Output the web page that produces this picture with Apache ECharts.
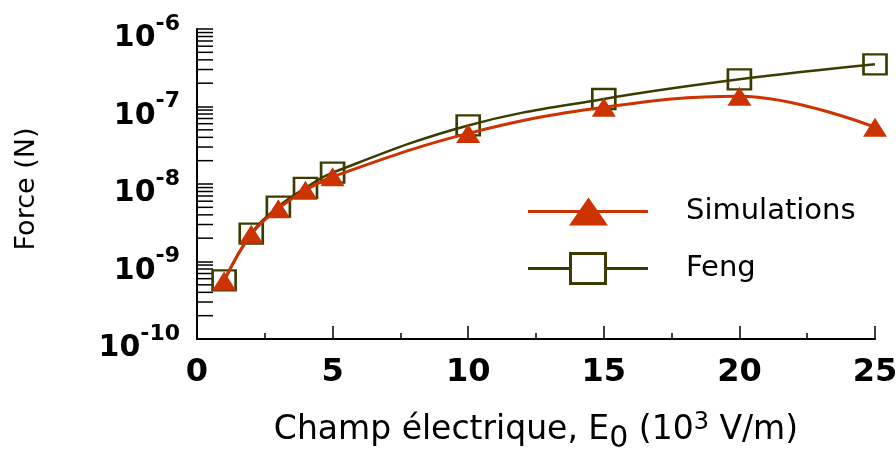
<!DOCTYPE html>
<html>
<head>
<meta charset="utf-8">
<script src="https://cdn.jsdelivr.net/npm/echarts@6/dist/echarts.min.js"></script>
<style>
html,body{margin:0;padding:0;background:#fff;}
#chart{width:896px;height:450px;}
</style>
</head>
<body>
<div id="chart"></div>
<script>
// ---- data ----
const fieldE0 = [1, 2, 3, 4, 5, 10, 15, 20, 25];
const simulations = [5.6e-10, 2.24e-9, 4.8e-9, 8.3e-9, 1.24e-8, 4.5e-8, 9.8e-8, 1.36e-7, 5.4e-8];
const feng = [5.7e-10, 2.29e-9, 5.1e-9, 8.9e-9, 1.4e-8, 5.7e-8, 1.25e-7, 2.24e-7, 3.5e-7];
const xTicks = [0, 5, 10, 15, 20, 25];
const yDecades = [-10, -9, -8, -7, -6];
const minorMantissas = [2, 3, 4, 5, 6, 7, 8, 9];
const seriesNames = ['Simulations', 'Feng'];

const RED = '#cc3300';
const OLIVE = '#3c3c00';
const FONT = 'DejaVu Sans';

const minorTickData = [];
for (let i = 0; i < yDecades.length - 1; i++) {
  for (const m of minorMantissas) minorTickData.push([0, m * Math.pow(10, yDecades[i])]);
}

const chart = echarts.init(document.getElementById('chart'), null, {renderer: 'canvas'});

const option = {
  animation: false,
  backgroundColor: '#fff',
  grid: {left: 197, right: 21, top: 29, bottom: 111, containLabel: false, outerBoundsMode: 'none'},
  legend: [
    {
      data: [{
        name: seriesNames[0],
        icon: 'path://M0 12.5 L120 12.5 L120 15.5 L0 15.5 Z M41 28 L60.5 0 L80 28 Z',
        itemStyle: {color: RED, borderWidth: 0}
      }],
      left: 528, top: 197, padding: 0,
      itemWidth: 120, itemHeight: 28,
      selectedMode: false,
      textStyle: {fontFamily: FONT, fontSize: 29, color: '#000', padding: [0, 0, 0, 33]}
    },
    {
      data: [{
        name: seriesNames[1],
        icon: 'path://M0 15 L41 15 L41 18 L0 18 Z M79 15 L120 15 L120 18 L79 18 Z M41 0 L79 0 L79 33 L41 33 Z M44 3 L44 30 L76 30 L76 3 Z',
        itemStyle: {color: OLIVE, borderWidth: 0}
      }],
      left: 528, top: 252, padding: 0,
      itemWidth: 120, itemHeight: 33,
      selectedMode: false,
      textStyle: {fontFamily: FONT, fontSize: 29, color: '#000', padding: [0, 0, 0, 33]}
    }
  ],
  xAxis: {
    type: 'value',
    min: xTicks[0], max: xTicks[xTicks.length - 1], interval: 5,
    name: '{m|Champ électrique, E}{sub|0}{m| (10}{sup|3}{m| V/m)}',
    nameLocation: 'middle',
    nameGap: 68,
    nameTextStyle: {
      color: '#000',
      rich: {
        m: {fontFamily: FONT, fontSize: 33, color: '#000', verticalAlign: 'middle'},
        sub: {fontFamily: FONT, fontSize: 30, color: '#000', verticalAlign: 'middle', padding: [17, 0, 0, 0]},
        sup: {fontFamily: FONT, fontSize: 24, color: '#000', verticalAlign: 'middle', padding: [0, 0, 15, 0]}
      }
    },
    axisLine: {show: true, onZero: false, lineStyle: {color: '#000', width: 2}},
    axisTick: {show: true, inside: true, length: 13, lineStyle: {color: '#000', width: 1.5}},
    minorTick: {show: true, splitNumber: 2, length: 6, lineStyle: {color: '#000', width: 1.5}},
    splitLine: {show: false},
    axisLabel: {fontFamily: FONT, fontSize: 32, fontWeight: 'bold', color: '#000', margin: 18}
  },
  yAxis: {
    type: 'log',
    logBase: 10,
    min: Math.pow(10, yDecades[0]),
    max: Math.pow(10, yDecades[yDecades.length - 1]),
    name: 'Force (N)',
    nameLocation: 'middle',
    nameRotate: 90,
    nameGap: 157,
    nameTextStyle: {fontFamily: FONT, fontSize: 27, color: '#000', padding: [0, 10, 0, 0]},
    axisLine: {show: true, onZero: false, lineStyle: {color: '#000', width: 2}},
    axisTick: {show: true, inside: true, length: 16, lineStyle: {color: '#000', width: 1.5}},
    splitLine: {show: false},
    axisLabel: {
      margin: 17,
      formatter: function (v) {
        const e = Math.round(Math.log10(v));
        return '{b|10}{s|' + e + '}';
      },
      rich: {
        b: {fontFamily: FONT, fontSize: 30, fontWeight: 'bold', color: '#000', verticalAlign: 'middle', padding: [19, 0, 0, 0]},
        s: {fontFamily: FONT, fontSize: 22, fontWeight: 'bold', color: '#000', verticalAlign: 'middle', padding: [0, 0, 10, 0]}
      }
    }
  },
  series: [
    {
      type: 'custom',
      silent: true,
      clip: false,
      data: minorTickData,
      encode: {x: 0, y: 1},
      renderItem: function (params, api) {
        const p = api.coord([api.value(0), api.value(1)]);
        return {
          type: 'line',
          shape: {x1: p[0], y1: p[1], x2: p[0] + 16, y2: p[1]},
          style: {stroke: '#000', lineWidth: 1.5}
        };
      }
    },
    {
      name: seriesNames[1],
      type: 'line',
      data: fieldE0.map((x, i) => [x, feng[i]]),
      smooth: 0.4,
      symbol: 'rect',
      symbolSize: [23, 20],
      lineStyle: {color: OLIVE, width: 2.5},
      itemStyle: {color: 'rgba(0,0,0,0)', borderColor: OLIVE, borderWidth: 2.5},
      z: 3
    },
    {
      name: seriesNames[0],
      type: 'line',
      data: fieldE0.map((x, i) => [x, simulations[i]]),
      smooth: 0.4,
      symbol: 'triangle',
      symbolSize: [24, 19],
      lineStyle: {color: RED, width: 3},
      itemStyle: {color: RED, borderWidth: 0},
      z: 4
    }
  ]
};
chart.setOption(option);
</script>
</body>
</html>
